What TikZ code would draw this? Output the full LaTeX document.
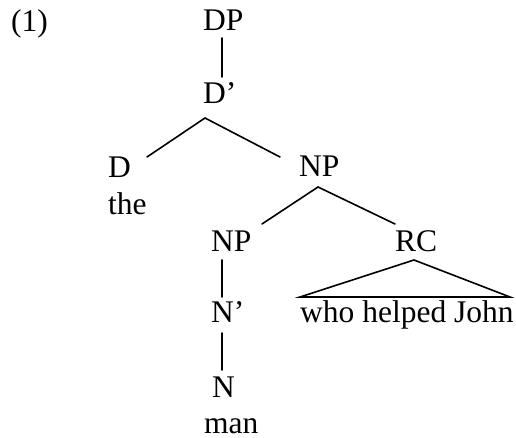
\documentclass[tikz,border=0pt]{standalone}
\usepackage{fontspec}
\setmainfont{Liberation Serif}
\begin{document}
\begin{tikzpicture}[x=1pt,y=1pt,
  lbl/.style={anchor=base west,inner sep=0pt,font=\fontsize{31.5}{36}\selectfont},
  edge/.style={line width=1.6pt,line cap=round}]
\useasboundingbox (0,0) rectangle (516,438);
% labels (base-left positions)
\node[lbl] (ex)   at (11,406)  {(1)};
\node[lbl] (DP)   at (203,407) {DP};
\node[lbl] (Dbar) at (203,334) {D’};
\node[lbl] (D)    at (108,260) {D};
\node[lbl] (the)  at (108,223) {the};
\node[lbl] (NPt)  at (299,261) {NP};
\node[lbl] (NPl)  at (211,186) {NP};
\node[lbl] (RC)   at (395,186) {RC};
\node[lbl] (who)  at (300,115) {who helped John};
\node[lbl] (Nbar) at (211,115) {N’};
\node[lbl] (N)    at (212,40)  {N};
\node[lbl] (man)  at (204,4)   {man};
% branch end points
\coordinate (dp-b)   at (222,400);
\coordinate (db-t)   at (222,361);
\coordinate (db-b)   at (205,320);
\coordinate (d-t)    at (147,281);
\coordinate (npt-t)  at (280,281);
\coordinate (npt-b)  at (318,251);
\coordinate (npl-t)  at (262,214);
\coordinate (rc-t)   at (395,214);
\coordinate (npl-b)  at (222,178);
\coordinate (nb-t)   at (222,141);
\coordinate (nb-b)   at (222,105);
\coordinate (n-t)    at (222,68);
\coordinate (rc-b)   at (414,178);
\coordinate (tri-l)  at (300,141);
\coordinate (tri-r)  at (510,141);
% connectors
\draw[edge] (dp-b) -- (db-t);
\draw[edge] (d-t) -- (db-b) -- (npt-t);
\draw[edge] (npl-t) -- (npt-b) -- (rc-t);
\draw[edge] (npl-b) -- (nb-t);
\draw[edge] (nb-b) -- (n-t);
\draw[edge] (tri-l) -- (rc-b) -- (tri-r) -- cycle;
\end{tikzpicture}
\end{document}
